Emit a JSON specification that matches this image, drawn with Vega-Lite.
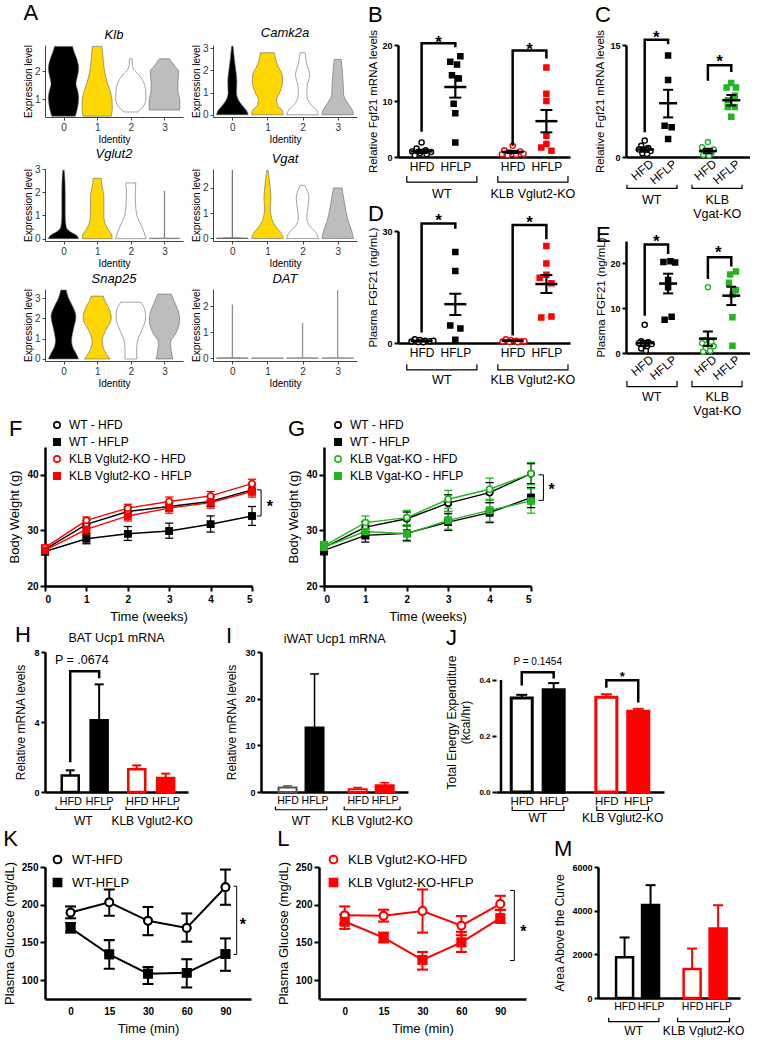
{
"$schema":"https://vega.github.io/schema/vega-lite/v6.json",
"padding":{"left":3,"top":2,"right":0,"bottom":0},
"background":"white",
"config":{
 "font":"Liberation Sans",
 "view":{"stroke":null},
 "axis":{"grid":false,"domainColor":"black","tickColor":"black","labelColor":"black","titleColor":"black","titleFontWeight":"normal","labelFont":"Liberation Sans","titleFont":"Liberation Sans"},
 "title":{"anchor":"start","frame":"bounds","fontSize":22,"fontWeight":"normal","font":"Liberation Sans","offset":2},
 "legend":{"labelFont":"Liberation Sans","labelColor":"black"}
},
"datasets":{"vio":[
{"g":"Klb","id":0,"l":0.38,"lo":-0.35,"hi":0.35},{"g":"Klb","id":0,"l":0.7,"lo":-0.42,"hi":0.42},{"g":"Klb","id":0,"l":1.05,"lo":-0.45,"hi":0.45},{"g":"Klb","id":0,"l":1.3,"lo":-0.42,"hi":0.42},{"g":"Klb","id":0,"l":1.55,"lo":-0.37,"hi":0.37},{"g":"Klb","id":0,"l":1.8,"lo":-0.41,"hi":0.41},{"g":"Klb","id":0,"l":2.1,"lo":-0.45,"hi":0.45},{"g":"Klb","id":0,"l":2.5,"lo":-0.38,"hi":0.38},{"g":"Klb","id":0,"l":2.75,"lo":-0.3,"hi":0.3},{"g":"Klb","id":0,"l":2.9,"lo":-0.27,"hi":0.27},
{"g":"Klb","id":1,"l":0.38,"lo":0.58,"hi":1.42},{"g":"Klb","id":1,"l":0.7,"lo":0.55,"hi":1.45},{"g":"Klb","id":1,"l":1.0,"lo":0.56,"hi":1.44},{"g":"Klb","id":1,"l":1.3,"lo":0.62,"hi":1.38},{"g":"Klb","id":1,"l":1.6,"lo":0.7,"hi":1.3},{"g":"Klb","id":1,"l":2.0,"lo":0.78,"hi":1.22},{"g":"Klb","id":1,"l":2.4,"lo":0.82,"hi":1.18},{"g":"Klb","id":1,"l":2.7,"lo":0.84,"hi":1.16},{"g":"Klb","id":1,"l":2.9,"lo":0.86,"hi":1.14},
{"g":"Klb","id":2,"l":0.53,"lo":1.8,"hi":2.2},{"g":"Klb","id":2,"l":0.7,"lo":1.65,"hi":2.35},{"g":"Klb","id":2,"l":1.0,"lo":1.55,"hi":2.45},{"g":"Klb","id":2,"l":1.3,"lo":1.56,"hi":2.44},{"g":"Klb","id":2,"l":1.6,"lo":1.62,"hi":2.38},{"g":"Klb","id":2,"l":1.9,"lo":1.78,"hi":2.22},{"g":"Klb","id":2,"l":2.05,"lo":1.9,"hi":2.1},{"g":"Klb","id":2,"l":2.2,"lo":1.95,"hi":2.05},{"g":"Klb","id":2,"l":2.45,"lo":1.96,"hi":2.04},
{"g":"Klb","id":3,"l":0.6,"lo":2.55,"hi":3.45},{"g":"Klb","id":3,"l":0.8,"lo":2.54,"hi":3.46},{"g":"Klb","id":3,"l":1.0,"lo":2.55,"hi":3.45},{"g":"Klb","id":3,"l":1.3,"lo":2.6,"hi":3.4},{"g":"Klb","id":3,"l":1.6,"lo":2.6,"hi":3.4},{"g":"Klb","id":3,"l":2.0,"lo":2.58,"hi":3.42},{"g":"Klb","id":3,"l":2.2,"lo":2.7,"hi":3.3},{"g":"Klb","id":3,"l":2.45,"lo":2.85,"hi":3.15},
{"g":"Camk2a","id":0,"l":0,"lo":-0.45,"hi":0.45},{"g":"Camk2a","id":0,"l":0.15,"lo":-0.42,"hi":0.42},{"g":"Camk2a","id":0,"l":0.35,"lo":-0.32,"hi":0.32},{"g":"Camk2a","id":0,"l":0.6,"lo":-0.2,"hi":0.2},{"g":"Camk2a","id":0,"l":1.0,"lo":-0.12,"hi":0.12},{"g":"Camk2a","id":0,"l":1.5,"lo":-0.13,"hi":0.13},{"g":"Camk2a","id":0,"l":2.0,"lo":-0.1,"hi":0.1},{"g":"Camk2a","id":0,"l":2.5,"lo":-0.06,"hi":0.06},{"g":"Camk2a","id":0,"l":3.1,"lo":-0.02,"hi":0.02},
{"g":"Camk2a","id":1,"l":0,"lo":0.55,"hi":1.45},{"g":"Camk2a","id":1,"l":0.2,"lo":0.58,"hi":1.42},{"g":"Camk2a","id":1,"l":0.45,"lo":0.72,"hi":1.28},{"g":"Camk2a","id":1,"l":0.7,"lo":0.74,"hi":1.26},{"g":"Camk2a","id":1,"l":1.0,"lo":0.65,"hi":1.35},{"g":"Camk2a","id":1,"l":1.5,"lo":0.57,"hi":1.43},{"g":"Camk2a","id":1,"l":1.8,"lo":0.58,"hi":1.42},{"g":"Camk2a","id":1,"l":2.2,"lo":0.7,"hi":1.3},{"g":"Camk2a","id":1,"l":2.6,"lo":0.78,"hi":1.22},{"g":"Camk2a","id":1,"l":2.8,"lo":0.8,"hi":1.2},
{"g":"Camk2a","id":2,"l":0,"lo":1.55,"hi":2.45},{"g":"Camk2a","id":2,"l":0.2,"lo":1.6,"hi":2.4},{"g":"Camk2a","id":2,"l":0.5,"lo":1.78,"hi":2.22},{"g":"Camk2a","id":2,"l":0.9,"lo":1.88,"hi":2.12},{"g":"Camk2a","id":2,"l":1.3,"lo":1.87,"hi":2.13},{"g":"Camk2a","id":2,"l":1.8,"lo":1.8,"hi":2.2},{"g":"Camk2a","id":2,"l":2.3,"lo":1.88,"hi":2.12},{"g":"Camk2a","id":2,"l":2.8,"lo":1.93,"hi":2.07},
{"g":"Camk2a","id":3,"l":0,"lo":2.55,"hi":3.45},{"g":"Camk2a","id":3,"l":0.2,"lo":2.58,"hi":3.42},{"g":"Camk2a","id":3,"l":0.5,"lo":2.7,"hi":3.3},{"g":"Camk2a","id":3,"l":0.9,"lo":2.83,"hi":3.17},{"g":"Camk2a","id":3,"l":1.3,"lo":2.84,"hi":3.16},{"g":"Camk2a","id":3,"l":1.8,"lo":2.86,"hi":3.14},{"g":"Camk2a","id":3,"l":2.2,"lo":2.88,"hi":3.12},{"g":"Camk2a","id":3,"l":2.5,"lo":2.9,"hi":3.1},
{"g":"Vglut2","id":0,"l":0,"lo":-0.45,"hi":0.45},{"g":"Vglut2","id":0,"l":0.15,"lo":-0.38,"hi":0.38},{"g":"Vglut2","id":0,"l":0.3,"lo":-0.2,"hi":0.2},{"g":"Vglut2","id":0,"l":0.5,"lo":-0.08,"hi":0.08},{"g":"Vglut2","id":0,"l":1.0,"lo":-0.05,"hi":0.05},{"g":"Vglut2","id":0,"l":2.0,"lo":-0.05,"hi":0.05},{"g":"Vglut2","id":0,"l":2.6,"lo":-0.04,"hi":0.04},{"g":"Vglut2","id":0,"l":2.95,"lo":-0.02,"hi":0.02},
{"g":"Vglut2","id":1,"l":0,"lo":0.55,"hi":1.45},{"g":"Vglut2","id":1,"l":0.2,"lo":0.58,"hi":1.42},{"g":"Vglut2","id":1,"l":0.45,"lo":0.7,"hi":1.3},{"g":"Vglut2","id":1,"l":0.75,"lo":0.78,"hi":1.22},{"g":"Vglut2","id":1,"l":1.0,"lo":0.8,"hi":1.2},{"g":"Vglut2","id":1,"l":1.8,"lo":0.8,"hi":1.2},{"g":"Vglut2","id":1,"l":2.4,"lo":0.87,"hi":1.13},{"g":"Vglut2","id":1,"l":2.6,"lo":0.88,"hi":1.12},
{"g":"Vglut2","id":2,"l":0,"lo":1.55,"hi":2.45},{"g":"Vglut2","id":2,"l":0.25,"lo":1.6,"hi":2.4},{"g":"Vglut2","id":2,"l":0.6,"lo":1.7,"hi":2.3},{"g":"Vglut2","id":2,"l":1.0,"lo":1.82,"hi":2.18},{"g":"Vglut2","id":2,"l":1.5,"lo":1.86,"hi":2.14},{"g":"Vglut2","id":2,"l":2.0,"lo":1.87,"hi":2.13},{"g":"Vglut2","id":2,"l":2.4,"lo":1.85,"hi":2.15},
{"g":"Vglut2","id":3,"l":0,"lo":2.55,"hi":3.45},{"g":"Vglut2","id":3,"l":0.02,"lo":2.55,"hi":3.45},{"g":"Vglut2","id":3,"l":0.03,"lo":2.994,"hi":3.006},{"g":"Vglut2","id":3,"l":2.05,"lo":2.994,"hi":3.006},
{"g":"Vgat","id":0,"l":0,"lo":-0.45,"hi":0.45},{"g":"Vgat","id":0,"l":0.02,"lo":-0.45,"hi":0.45},{"g":"Vgat","id":0,"l":0.03,"lo":-0.006,"hi":0.006},{"g":"Vgat","id":0,"l":2.7,"lo":-0.006,"hi":0.006},
{"g":"Vgat","id":1,"l":0,"lo":0.55,"hi":1.45},{"g":"Vgat","id":1,"l":0.2,"lo":0.6,"hi":1.4},{"g":"Vgat","id":1,"l":0.45,"lo":0.75,"hi":1.25},{"g":"Vgat","id":1,"l":0.8,"lo":0.88,"hi":1.12},{"g":"Vgat","id":1,"l":1.2,"lo":0.92,"hi":1.08},{"g":"Vgat","id":1,"l":1.6,"lo":0.9,"hi":1.1},{"g":"Vgat","id":1,"l":2.0,"lo":0.92,"hi":1.08},{"g":"Vgat","id":1,"l":2.4,"lo":0.95,"hi":1.05},{"g":"Vgat","id":1,"l":2.7,"lo":0.98,"hi":1.02},
{"g":"Vgat","id":2,"l":0,"lo":1.55,"hi":2.45},{"g":"Vgat","id":2,"l":0.2,"lo":1.6,"hi":2.4},{"g":"Vgat","id":2,"l":0.5,"lo":1.8,"hi":2.2},{"g":"Vgat","id":2,"l":0.8,"lo":1.88,"hi":2.12},{"g":"Vgat","id":2,"l":1.2,"lo":1.85,"hi":2.15},{"g":"Vgat","id":2,"l":1.6,"lo":1.82,"hi":2.18},{"g":"Vgat","id":2,"l":1.9,"lo":1.87,"hi":2.13},{"g":"Vgat","id":2,"l":2.1,"lo":1.94,"hi":2.06},
{"g":"Vgat","id":3,"l":0,"lo":2.55,"hi":3.45},{"g":"Vgat","id":3,"l":0.3,"lo":2.6,"hi":3.4},{"g":"Vgat","id":3,"l":0.7,"lo":2.7,"hi":3.3},{"g":"Vgat","id":3,"l":1.2,"lo":2.78,"hi":3.22},{"g":"Vgat","id":3,"l":1.6,"lo":2.83,"hi":3.17},{"g":"Vgat","id":3,"l":2.0,"lo":2.88,"hi":3.12},
{"g":"Snap25","id":0,"l":0,"lo":-0.45,"hi":0.45},{"g":"Snap25","id":0,"l":0.25,"lo":-0.38,"hi":0.38},{"g":"Snap25","id":0,"l":0.6,"lo":-0.27,"hi":0.27},{"g":"Snap25","id":0,"l":0.9,"lo":-0.24,"hi":0.24},{"g":"Snap25","id":0,"l":1.5,"lo":-0.3,"hi":0.3},{"g":"Snap25","id":0,"l":2.1,"lo":-0.37,"hi":0.37},{"g":"Snap25","id":0,"l":2.6,"lo":-0.27,"hi":0.27},{"g":"Snap25","id":0,"l":3.0,"lo":-0.15,"hi":0.15},{"g":"Snap25","id":0,"l":3.4,"lo":-0.08,"hi":0.08},
{"g":"Snap25","id":1,"l":0,"lo":0.62,"hi":1.38},{"g":"Snap25","id":1,"l":0.4,"lo":0.78,"hi":1.22},{"g":"Snap25","id":1,"l":0.9,"lo":0.85,"hi":1.15},{"g":"Snap25","id":1,"l":1.4,"lo":0.75,"hi":1.25},{"g":"Snap25","id":1,"l":2.0,"lo":0.58,"hi":1.42},{"g":"Snap25","id":1,"l":2.5,"lo":0.65,"hi":1.35},{"g":"Snap25","id":1,"l":2.9,"lo":0.78,"hi":1.22},{"g":"Snap25","id":1,"l":3.1,"lo":0.82,"hi":1.18},
{"g":"Snap25","id":2,"l":0,"lo":1.82,"hi":2.18},{"g":"Snap25","id":2,"l":0.4,"lo":1.83,"hi":2.17},{"g":"Snap25","id":2,"l":0.9,"lo":1.8,"hi":2.2},{"g":"Snap25","id":2,"l":1.4,"lo":1.68,"hi":2.32},{"g":"Snap25","id":2,"l":2.0,"lo":1.56,"hi":2.44},{"g":"Snap25","id":2,"l":2.4,"lo":1.58,"hi":2.42},{"g":"Snap25","id":2,"l":2.8,"lo":1.7,"hi":2.3},
{"g":"Snap25","id":3,"l":0,"lo":2.75,"hi":3.25},{"g":"Snap25","id":3,"l":0.4,"lo":2.8,"hi":3.2},{"g":"Snap25","id":3,"l":0.8,"lo":2.82,"hi":3.18},{"g":"Snap25","id":3,"l":1.3,"lo":2.65,"hi":3.35},{"g":"Snap25","id":3,"l":1.9,"lo":2.55,"hi":3.45},{"g":"Snap25","id":3,"l":2.3,"lo":2.58,"hi":3.42},{"g":"Snap25","id":3,"l":2.8,"lo":2.7,"hi":3.3},{"g":"Snap25","id":3,"l":3.2,"lo":2.8,"hi":3.2},
{"g":"DAT","id":0,"l":0,"lo":-0.45,"hi":0.45},{"g":"DAT","id":0,"l":0.02,"lo":-0.45,"hi":0.45},{"g":"DAT","id":0,"l":0.03,"lo":-0.006,"hi":0.006},{"g":"DAT","id":0,"l":2.05,"lo":-0.006,"hi":0.006},
{"g":"DAT","id":1,"l":0,"lo":0.55,"hi":1.45},{"g":"DAT","id":1,"l":0.02,"lo":0.55,"hi":1.45},
{"g":"DAT","id":2,"l":0,"lo":1.55,"hi":2.45},{"g":"DAT","id":2,"l":0.02,"lo":1.55,"hi":2.45},{"g":"DAT","id":2,"l":0.03,"lo":1.994,"hi":2.006},{"g":"DAT","id":2,"l":1.35,"lo":1.994,"hi":2.006},
{"g":"DAT","id":3,"l":0,"lo":2.55,"hi":3.45},{"g":"DAT","id":3,"l":0.02,"lo":2.55,"hi":3.45},{"g":"DAT","id":3,"l":0.03,"lo":2.994,"hi":3.006},{"g":"DAT","id":3,"l":2.6,"lo":2.994,"hi":3.006}
]},
"spacing":0,
"resolve":{"scale":{"color":"independent","fill":"independent","stroke":"independent","shape":"independent"}},
"vconcat":[
{"resolve":{"scale":{"color":"independent","fill":"independent","stroke":"independent","shape":"independent"}},"hconcat":[
 {"title":{"text":"A"},"spacing":4,"resolve":{"scale":{"color":"independent","fill":"independent","stroke":"independent","shape":"independent"}},"vconcat":[
  {"resolve":{"scale":{"color":"independent"}},"hconcat":[
   {"width":138,"height":72,"title":{"text":"Klb","anchor":"middle","frame":"group","fontStyle":"italic","fontSize":13,"offset":3},"data":{"name":"vio"},"transform":[{"filter":"datum.g == 'Klb'"}],"mark":{"type":"area","orient":"horizontal","interpolate":"monotone","stroke":"#666666","strokeWidth":0.6,"opacity":1},"encoding":{"y":{"field":"l","type":"quantitative","scale":{"domain":[0.35,2.95],"nice":false,"zero":false},"axis":{"title":"Expression level","values":[1,2],"titleFontSize":10,"labelFontSize":10,"domainColor":"#444","tickColor":"#444","labelColor":"#333","titlePadding":1,"tickSize":3,"labelPadding":2}},"x":{"field":"lo","type":"quantitative","scale":{"domain":[-0.55,3.55],"nice":false,"zero":false},"axis":{"title":"Identity","values":[0,1,2,3],"format":"d","titleFontSize":10,"labelFontSize":10,"domainColor":"#444","tickColor":"#444","labelColor":"#333","titlePadding":2,"tickSize":3}},"x2":{"field":"hi"},"color":{"field":"id","type":"nominal","scale":{"domain":[0,1,2,3],"range":["#000000","#ffd700","#ffffff","#bdbdbd"]},"legend":null}}},
   {"width":144,"height":72,"title":{"text":"Camk2a","anchor":"middle","frame":"group","fontStyle":"italic","fontSize":13,"offset":3},"data":{"name":"vio"},"transform":[{"filter":"datum.g == 'Camk2a'"}],"mark":{"type":"area","orient":"horizontal","interpolate":"monotone","stroke":"#666666","strokeWidth":0.6,"opacity":1},"encoding":{"y":{"field":"l","type":"quantitative","scale":{"domain":[-0.1,3.15],"nice":false,"zero":false},"axis":{"title":"Expression level","values":[0,1,2,3],"titleFontSize":10,"labelFontSize":10,"domainColor":"#444","tickColor":"#444","labelColor":"#333","titlePadding":1,"tickSize":3,"labelPadding":2}},"x":{"field":"lo","type":"quantitative","scale":{"domain":[-0.55,3.55],"nice":false,"zero":false},"axis":{"title":"Identity","values":[0,1,2,3],"format":"d","titleFontSize":10,"labelFontSize":10,"domainColor":"#444","tickColor":"#444","labelColor":"#333","titlePadding":2,"tickSize":3}},"x2":{"field":"hi"},"color":{"field":"id","type":"nominal","scale":{"domain":[0,1,2,3],"range":["#000000","#ffd700","#ffffff","#bdbdbd"]},"legend":null}}}
  ],"spacing":8},
  {"resolve":{"scale":{"color":"independent"}},"hconcat":[
   {"width":138,"height":72,"title":{"text":"Vglut2","anchor":"middle","frame":"group","fontStyle":"italic","fontSize":13,"offset":3},"data":{"name":"vio"},"transform":[{"filter":"datum.g == 'Vglut2'"}],"mark":{"type":"area","orient":"horizontal","interpolate":"monotone","stroke":"#666666","strokeWidth":0.6,"opacity":1},"encoding":{"y":{"field":"l","type":"quantitative","scale":{"domain":[-0.1,3.0],"nice":false,"zero":false},"axis":{"title":"Expression level","values":[0,1,2,3],"titleFontSize":10,"labelFontSize":10,"domainColor":"#444","tickColor":"#444","labelColor":"#333","titlePadding":1,"tickSize":3,"labelPadding":2}},"x":{"field":"lo","type":"quantitative","scale":{"domain":[-0.55,3.55],"nice":false,"zero":false},"axis":{"title":"Identity","values":[0,1,2,3],"format":"d","titleFontSize":10,"labelFontSize":10,"domainColor":"#444","tickColor":"#444","labelColor":"#333","titlePadding":2,"tickSize":3}},"x2":{"field":"hi"},"color":{"field":"id","type":"nominal","scale":{"domain":[0,1,2,3],"range":["#000000","#ffd700","#ffffff","#bdbdbd"]},"legend":null}}},
   {"width":144,"height":72,"title":{"text":"Vgat","anchor":"middle","frame":"group","fontStyle":"italic","fontSize":13,"offset":3},"data":{"name":"vio"},"transform":[{"filter":"datum.g == 'Vgat'"}],"mark":{"type":"area","orient":"horizontal","interpolate":"monotone","stroke":"#666666","strokeWidth":0.6,"opacity":1},"encoding":{"y":{"field":"l","type":"quantitative","scale":{"domain":[-0.1,2.75],"nice":false,"zero":false},"axis":{"title":"Expression level","values":[0,1,2],"titleFontSize":10,"labelFontSize":10,"domainColor":"#444","tickColor":"#444","labelColor":"#333","titlePadding":1,"tickSize":3,"labelPadding":2}},"x":{"field":"lo","type":"quantitative","scale":{"domain":[-0.55,3.55],"nice":false,"zero":false},"axis":{"title":"Identity","values":[0,1,2,3],"format":"d","titleFontSize":10,"labelFontSize":10,"domainColor":"#444","tickColor":"#444","labelColor":"#333","titlePadding":2,"tickSize":3}},"x2":{"field":"hi"},"color":{"field":"id","type":"nominal","scale":{"domain":[0,1,2,3],"range":["#000000","#ffd700","#ffffff","#bdbdbd"]},"legend":null}}}
  ],"spacing":8},
  {"resolve":{"scale":{"color":"independent"}},"hconcat":[
   {"width":138,"height":72,"title":{"text":"Snap25","anchor":"middle","frame":"group","fontStyle":"italic","fontSize":13,"offset":3},"data":{"name":"vio"},"transform":[{"filter":"datum.g == 'Snap25'"}],"mark":{"type":"area","orient":"horizontal","interpolate":"monotone","stroke":"#666666","strokeWidth":0.6,"opacity":1},"encoding":{"y":{"field":"l","type":"quantitative","scale":{"domain":[-0.1,3.45],"nice":false,"zero":false},"axis":{"title":"Expression level","values":[0,1,2,3],"titleFontSize":10,"labelFontSize":10,"domainColor":"#444","tickColor":"#444","labelColor":"#333","titlePadding":1,"tickSize":3,"labelPadding":2}},"x":{"field":"lo","type":"quantitative","scale":{"domain":[-0.55,3.55],"nice":false,"zero":false},"axis":{"title":"Identity","values":[0,1,2,3],"format":"d","titleFontSize":10,"labelFontSize":10,"domainColor":"#444","tickColor":"#444","labelColor":"#333","titlePadding":2,"tickSize":3}},"x2":{"field":"hi"},"color":{"field":"id","type":"nominal","scale":{"domain":[0,1,2,3],"range":["#000000","#ffd700","#ffffff","#bdbdbd"]},"legend":null}}},
   {"width":144,"height":72,"title":{"text":"DAT","anchor":"middle","frame":"group","fontStyle":"italic","fontSize":13,"offset":3},"data":{"name":"vio"},"transform":[{"filter":"datum.g == 'DAT'"}],"mark":{"type":"area","orient":"horizontal","interpolate":"monotone","stroke":"#777777","strokeWidth":0.6,"opacity":1},"encoding":{"y":{"field":"l","type":"quantitative","scale":{"domain":[-0.1,2.65],"nice":false,"zero":false},"axis":{"title":"Expression level","values":[0,1,2],"titleFontSize":10,"labelFontSize":10,"domainColor":"#444","tickColor":"#444","labelColor":"#333","titlePadding":1,"tickSize":3,"labelPadding":2}},"x":{"field":"lo","type":"quantitative","scale":{"domain":[-0.55,3.55],"nice":false,"zero":false},"axis":{"title":"Identity","values":[0,1,2,3],"format":"d","titleFontSize":10,"labelFontSize":10,"domainColor":"#444","tickColor":"#444","labelColor":"#333","titlePadding":2,"tickSize":3}},"x2":{"field":"hi"},"color":{"field":"id","type":"nominal","scale":{"domain":[0,1,2,3],"range":["#888888","#bbbbbb","#bbbbbb","#bbbbbb"]},"legend":null}}}
  ],"spacing":8}
 ]},
 {"resolve":{"scale":{"color":"independent","fill":"independent","stroke":"independent","shape":"independent"}},"hconcat":[
  {"spacing":2,"resolve":{"scale":{"color":"independent","fill":"independent","stroke":"independent","shape":"independent"}},"vconcat":[
   {"title":{"text":"B"},"width":172,"height":112,"layer":[
    {"data":{"values":[
     {"c":"WT HFD","x":1.0,"y":2.6},{"c":"WT HFD","x":0.85,"y":1.5},{"c":"WT HFD","x":1.12,"y":1.2},{"c":"WT HFD","x":0.72,"y":1.0},{"c":"WT HFD","x":1.28,"y":0.9},{"c":"WT HFD","x":0.95,"y":0.7},{"c":"WT HFD","x":1.15,"y":0.5},{"c":"WT HFD","x":0.8,"y":0.3},
     {"c":"WT HFLP","x":2.15,"y":18.0},{"c":"WT HFLP","x":1.85,"y":17.0},{"c":"WT HFLP","x":2.05,"y":16.5},{"c":"WT HFLP","x":1.9,"y":14.6},{"c":"WT HFLP","x":2.1,"y":14.0},{"c":"WT HFLP","x":1.95,"y":9.5},{"c":"WT HFLP","x":2.0,"y":7.8},{"c":"WT HFLP","x":2.0,"y":2.6},
     {"c":"KO HFD","x":3.7,"y":2.0},{"c":"KO HFD","x":3.45,"y":1.2},{"c":"KO HFD","x":3.92,"y":1.0},{"c":"KO HFD","x":3.6,"y":0.8},{"c":"KO HFD","x":4.02,"y":0.6},{"c":"KO HFD","x":3.38,"y":0.5},{"c":"KO HFD","x":3.8,"y":0.4},{"c":"KO HFD","x":3.55,"y":0.3},
     {"c":"KO HFLP","x":4.7,"y":16.0},{"c":"KO HFLP","x":4.7,"y":11.3},{"c":"KO HFLP","x":4.7,"y":10.0},{"c":"KO HFLP","x":4.7,"y":3.8},{"c":"KO HFLP","x":4.7,"y":2.3},{"c":"KO HFLP","x":4.55,"y":1.7},{"c":"KO HFLP","x":4.85,"y":1.1}
    ]},
     "mark":{"type":"point","filled":false,"size":26,"strokeWidth":1.4,"opacity":1},
     "encoding":{
      "x":{"field":"x","type":"quantitative","scale":{"domain":[0.3,5.4],"nice":false,"zero":false},"axis":{"title":null,"values":[1,2,3.7,4.7],"labelExpr":"(datum.value == 1 || datum.value == 3.7) ? 'HFD' : 'HFLP'","ticks":false,"domainWidth":2.5,"labelFontSize":12,"labelPadding":4,"labelOverlap":false}},
      "y":{"field":"y","type":"quantitative","scale":{"domain":[0,20],"nice":false,"zero":false},"axis":{"values":[0,5,10,15,20],"title":"Relative Fgf21 mRNA levels","domainWidth":2.5,"tickWidth":2,"tickSize":4,"labelFontSize":9,"labelFontWeight":"bold","titleFontSize":11.5,"titlePadding":3,"labelPadding":2}},
      "shape":{"field":"c","type":"nominal","scale":{"domain":["WT HFD","WT HFLP","KO HFD","KO HFLP"],"range":["circle","square","circle","square"]},"legend":null},
      "color":{"field":"c","type":"nominal","scale":{"domain":["WT HFD","WT HFLP","KO HFD","KO HFLP"],"range":["black","black","#ff0000","#ff0000"]},"legend":null},
      "fill":{"field":"c","type":"nominal","scale":{"domain":["WT HFD","WT HFLP","KO HFD","KO HFLP"],"range":["white","black","white","#ff0000"]},"legend":null}}},
    {"data":{"values":[{"x":1,"m":1.0,"lo":0.7,"hi":1.3},{"x":2,"m":12.5,"lo":10.6,"hi":14.4},{"x":3.7,"m":0.9,"lo":0.7,"hi":1.1},{"x":4.7,"m":6.4,"lo":4.4,"hi":8.4}]},"layer":[
     {"mark":{"type":"rule","strokeWidth":2.2,"color":"black"},"encoding":{"x":{"field":"x","type":"quantitative"},"y":{"field":"lo","type":"quantitative"},"y2":{"field":"hi"}}},
     {"mark":{"type":"tick","orient":"horizontal","size":22,"thickness":2.5,"color":"black","opacity":1},"encoding":{"x":{"field":"x","type":"quantitative"},"y":{"field":"m","type":"quantitative"}}},
     {"mark":{"type":"tick","orient":"horizontal","size":12,"thickness":2,"color":"black","opacity":1},"encoding":{"x":{"field":"x","type":"quantitative"},"y":{"field":"lo","type":"quantitative"}}},
     {"mark":{"type":"tick","orient":"horizontal","size":12,"thickness":2,"color":"black","opacity":1},"encoding":{"x":{"field":"x","type":"quantitative"},"y":{"field":"hi","type":"quantitative"}}}
    ]},
    {"data":{"values":[{"b":1,"o":1,"x":1,"y":4.5},{"b":1,"o":2,"x":1,"y":20.3},{"b":1,"o":3,"x":2,"y":20.3},{"b":1,"o":4,"x":2,"y":19.6},{"b":2,"o":1,"x":3.7,"y":2.0},{"b":2,"o":2,"x":3.7,"y":19.0},{"b":2,"o":3,"x":4.7,"y":19.0},{"b":2,"o":4,"x":4.7,"y":17.6}]},"mark":{"type":"line","color":"black","strokeWidth":2.5,"clip":false},"encoding":{"x":{"field":"x","type":"quantitative"},"y":{"field":"y","type":"quantitative"},"detail":{"field":"b","type":"nominal"},"order":{"field":"o","type":"quantitative"}}},
    {"data":{"values":[{"x":1.5,"y":21.1,"t":"*"},{"x":4.2,"y":19.9,"t":"*"}]},"mark":{"type":"text","fontSize":17,"fontWeight":"bold","baseline":"alphabetic","dy":9,"clip":false},"encoding":{"x":{"field":"x","type":"quantitative"},"y":{"field":"y","type":"quantitative"},"text":{"field":"t"}}},
    {"data":{"values":[{"b":1,"o":1,"x":0.56,"y":-3.4},{"b":1,"o":2,"x":0.56,"y":-4.5},{"b":1,"o":3,"x":2.64,"y":-4.5},{"b":1,"o":4,"x":2.64,"y":-3.4},{"b":2,"o":1,"x":3.26,"y":-3.4},{"b":2,"o":2,"x":3.26,"y":-4.5},{"b":2,"o":3,"x":5.34,"y":-4.5},{"b":2,"o":4,"x":5.34,"y":-3.4}]},"mark":{"type":"line","color":"black","strokeWidth":1.2,"clip":false},"encoding":{"x":{"field":"x","type":"quantitative"},"y":{"field":"y","type":"quantitative"},"detail":{"field":"b","type":"nominal"},"order":{"field":"o","type":"quantitative"}}},
    {"data":{"values":[{"x":1.6,"y":-5.5,"t":"WT"},{"x":4.3,"y":-5.5,"t":"KLB Vglut2-KO"}]},"mark":{"type":"text","fontSize":12.5,"baseline":"top","clip":false},"encoding":{"x":{"field":"x","type":"quantitative"},"y":{"field":"y","type":"quantitative"},"text":{"field":"t"}}}
   ]},
   {"title":{"text":"D","offset":-14},"width":172,"height":112,"layer":[
    {"data":{"values":[
     {"c":"WT HFD","x":0.8,"y":1.0},{"c":"WT HFD","x":0.95,"y":0.8},{"c":"WT HFD","x":1.1,"y":0.6},{"c":"WT HFD","x":1.25,"y":0.5},{"c":"WT HFD","x":0.7,"y":0.4},{"c":"WT HFD","x":0.9,"y":0.3},{"c":"WT HFD","x":1.05,"y":0.2},{"c":"WT HFD","x":1.35,"y":0.6},
     {"c":"WT HFLP","x":2.0,"y":24.4},{"c":"WT HFLP","x":2.0,"y":19.3},{"c":"WT HFLP","x":1.85,"y":4.7},{"c":"WT HFLP","x":2.15,"y":3.9},{"c":"WT HFLP","x":2.0,"y":0.9},
     {"c":"KO HFD","x":3.5,"y":1.0},{"c":"KO HFD","x":3.65,"y":0.8},{"c":"KO HFD","x":3.8,"y":0.6},{"c":"KO HFD","x":3.95,"y":0.5},{"c":"KO HFD","x":3.4,"y":0.4},{"c":"KO HFD","x":3.6,"y":0.3},{"c":"KO HFD","x":3.85,"y":0.2},{"c":"KO HFD","x":4.05,"y":0.5},
     {"c":"KO HFLP","x":4.7,"y":26.0},{"c":"KO HFLP","x":4.7,"y":21.3},{"c":"KO HFLP","x":4.7,"y":18.3},{"c":"KO HFLP","x":4.5,"y":17.5},{"c":"KO HFLP","x":4.85,"y":16.0},{"c":"KO HFLP","x":4.85,"y":7.1},{"c":"KO HFLP","x":4.55,"y":6.8}
    ]},
     "mark":{"type":"point","filled":false,"size":26,"strokeWidth":1.4,"opacity":1},
     "encoding":{
      "x":{"field":"x","type":"quantitative","scale":{"domain":[0.3,5.4],"nice":false,"zero":false},"axis":{"title":null,"values":[1,2,3.7,4.7],"labelExpr":"(datum.value == 1 || datum.value == 3.7) ? 'HFD' : 'HFLP'","ticks":false,"domainWidth":2.5,"labelFontSize":12,"labelPadding":4,"labelOverlap":false}},
      "y":{"field":"y","type":"quantitative","scale":{"domain":[0,30],"nice":false,"zero":false},"axis":{"values":[0,10,20,30],"title":"Plasma FGF21 (ng/mL)","domainWidth":2.5,"tickWidth":2,"tickSize":4,"labelFontSize":9,"labelFontWeight":"bold","titleFontSize":11.5,"titlePadding":3,"labelPadding":2}},
      "shape":{"field":"c","type":"nominal","scale":{"domain":["WT HFD","WT HFLP","KO HFD","KO HFLP"],"range":["circle","square","circle","square"]},"legend":null},
      "color":{"field":"c","type":"nominal","scale":{"domain":["WT HFD","WT HFLP","KO HFD","KO HFLP"],"range":["black","black","#ff0000","#ff0000"]},"legend":null},
      "fill":{"field":"c","type":"nominal","scale":{"domain":["WT HFD","WT HFLP","KO HFD","KO HFLP"],"range":["white","black","white","#ff0000"]},"legend":null}}},
    {"data":{"values":[{"x":1,"m":0.5,"lo":0.4,"hi":0.6},{"x":2,"m":10.4,"lo":7.5,"hi":13.2},{"x":3.7,"m":0.6,"lo":0.5,"hi":0.7},{"x":4.7,"m":15.8,"lo":13.4,"hi":18.2}]},"layer":[
     {"mark":{"type":"rule","strokeWidth":2.2,"color":"black"},"encoding":{"x":{"field":"x","type":"quantitative"},"y":{"field":"lo","type":"quantitative"},"y2":{"field":"hi"}}},
     {"mark":{"type":"tick","orient":"horizontal","size":22,"thickness":2.5,"color":"black","opacity":1},"encoding":{"x":{"field":"x","type":"quantitative"},"y":{"field":"m","type":"quantitative"}}},
     {"mark":{"type":"tick","orient":"horizontal","size":12,"thickness":2,"color":"black","opacity":1},"encoding":{"x":{"field":"x","type":"quantitative"},"y":{"field":"lo","type":"quantitative"}}},
     {"mark":{"type":"tick","orient":"horizontal","size":12,"thickness":2,"color":"black","opacity":1},"encoding":{"x":{"field":"x","type":"quantitative"},"y":{"field":"hi","type":"quantitative"}}}
    ]},
    {"data":{"values":[{"b":1,"o":1,"x":1,"y":2.8},{"b":1,"o":2,"x":1,"y":32.0},{"b":1,"o":3,"x":2,"y":32.0},{"b":1,"o":4,"x":2,"y":30.6},{"b":2,"o":1,"x":3.7,"y":2.0},{"b":2,"o":2,"x":3.7,"y":31.6},{"b":2,"o":3,"x":4.7,"y":31.6},{"b":2,"o":4,"x":4.7,"y":27.8}]},"mark":{"type":"line","color":"black","strokeWidth":2.5,"clip":false},"encoding":{"x":{"field":"x","type":"quantitative"},"y":{"field":"y","type":"quantitative"},"detail":{"field":"b","type":"nominal"},"order":{"field":"o","type":"quantitative"}}},
    {"data":{"values":[{"x":1.5,"y":33.7,"t":"*"},{"x":4.2,"y":33.2,"t":"*"}]},"mark":{"type":"text","fontSize":17,"fontWeight":"bold","baseline":"alphabetic","dy":9,"clip":false},"encoding":{"x":{"field":"x","type":"quantitative"},"y":{"field":"y","type":"quantitative"},"text":{"field":"t"}}},
    {"data":{"values":[{"b":1,"o":1,"x":0.56,"y":-5.7},{"b":1,"o":2,"x":0.56,"y":-7.2},{"b":1,"o":3,"x":2.64,"y":-7.2},{"b":1,"o":4,"x":2.64,"y":-5.7},{"b":2,"o":1,"x":3.26,"y":-5.7},{"b":2,"o":2,"x":3.26,"y":-7.2},{"b":2,"o":3,"x":5.34,"y":-7.2},{"b":2,"o":4,"x":5.34,"y":-5.7}]},"mark":{"type":"line","color":"black","strokeWidth":1.2,"clip":false},"encoding":{"x":{"field":"x","type":"quantitative"},"y":{"field":"y","type":"quantitative"},"detail":{"field":"b","type":"nominal"},"order":{"field":"o","type":"quantitative"}}},
    {"data":{"values":[{"x":1.6,"y":-8.3,"t":"WT"},{"x":4.3,"y":-8.3,"t":"KLB Vglut2-KO"}]},"mark":{"type":"text","fontSize":12.5,"baseline":"top","clip":false},"encoding":{"x":{"field":"x","type":"quantitative"},"y":{"field":"y","type":"quantitative"},"text":{"field":"t"}}}
   ]}
  ]},
  {"spacing":2,"resolve":{"scale":{"color":"independent","fill":"independent","stroke":"independent","shape":"independent"}},"vconcat":[
   {"title":{"text":"C"},"width":124,"height":112,"layer":[
    {"data":{"values":[
     {"c":"WT HFD","x":1.0,"y":2.2},{"c":"WT HFD","x":0.85,"y":1.5},{"c":"WT HFD","x":1.15,"y":1.2},{"c":"WT HFD","x":0.75,"y":1.0},{"c":"WT HFD","x":1.25,"y":0.8},{"c":"WT HFD","x":0.9,"y":0.5},{"c":"WT HFD","x":1.1,"y":0.4},
     {"c":"WT HFLP","x":2.0,"y":13.6},{"c":"WT HFLP","x":2.0,"y":10.3},{"c":"WT HFLP","x":1.85,"y":4.2},{"c":"WT HFLP","x":2.15,"y":4.0},{"c":"WT HFLP","x":2.0,"y":2.4},
     {"c":"KO HFD","x":3.7,"y":2.0},{"c":"KO HFD","x":3.45,"y":1.3},{"c":"KO HFD","x":3.95,"y":1.0},{"c":"KO HFD","x":3.6,"y":0.8},{"c":"KO HFD","x":3.85,"y":0.5},{"c":"KO HFD","x":3.5,"y":0.3},{"c":"KO HFD","x":3.75,"y":0.2},
     {"c":"KO HFLP","x":4.7,"y":9.9},{"c":"KO HFLP","x":4.5,"y":9.3},{"c":"KO HFLP","x":4.9,"y":9.3},{"c":"KO HFLP","x":4.85,"y":8.2},{"c":"KO HFLP","x":4.55,"y":7.6},{"c":"KO HFLP","x":4.55,"y":6.7},{"c":"KO HFLP","x":4.85,"y":6.7},{"c":"KO HFLP","x":4.7,"y":5.4}
    ]},
     "mark":{"type":"point","filled":false,"size":26,"strokeWidth":1.4,"opacity":1},
     "encoding":{
      "x":{"field":"x","type":"quantitative","scale":{"domain":[0.2,5.5],"nice":false,"zero":false},"axis":{"title":null,"labels":false,"ticks":false,"domainWidth":2.5}},
      "y":{"field":"y","type":"quantitative","scale":{"domain":[0,15],"nice":false,"zero":false},"axis":{"values":[0,5,10,15],"title":"Relative Fgf21 mRNA levels","domainWidth":2.5,"tickWidth":2,"tickSize":4,"labelFontSize":9,"labelFontWeight":"bold","titleFontSize":11.5,"titlePadding":4,"labelPadding":2}},
      "shape":{"field":"c","type":"nominal","scale":{"domain":["WT HFD","WT HFLP","KO HFD","KO HFLP"],"range":["circle","square","circle","square"]},"legend":null},
      "color":{"field":"c","type":"nominal","scale":{"domain":["WT HFD","WT HFLP","KO HFD","KO HFLP"],"range":["black","black","#22b722","#22b722"]},"legend":null},
      "fill":{"field":"c","type":"nominal","scale":{"domain":["WT HFD","WT HFLP","KO HFD","KO HFLP"],"range":["white","black","white","#22b722"]},"legend":null}}},
    {"data":{"values":[{"x":1,"m":1.0,"lo":0.7,"hi":1.3},{"x":2,"m":7.2,"lo":5.3,"hi":9.0},{"x":3.7,"m":0.8,"lo":0.5,"hi":1.1},{"x":4.7,"m":7.6,"lo":6.9,"hi":8.3}]},"layer":[
     {"mark":{"type":"rule","strokeWidth":2.2,"color":"black"},"encoding":{"x":{"field":"x","type":"quantitative"},"y":{"field":"lo","type":"quantitative"},"y2":{"field":"hi"}}},
     {"mark":{"type":"tick","orient":"horizontal","size":18,"thickness":2.5,"color":"black","opacity":1},"encoding":{"x":{"field":"x","type":"quantitative"},"y":{"field":"m","type":"quantitative"}}},
     {"mark":{"type":"tick","orient":"horizontal","size":10,"thickness":2,"color":"black","opacity":1},"encoding":{"x":{"field":"x","type":"quantitative"},"y":{"field":"lo","type":"quantitative"}}},
     {"mark":{"type":"tick","orient":"horizontal","size":10,"thickness":2,"color":"black","opacity":1},"encoding":{"x":{"field":"x","type":"quantitative"},"y":{"field":"hi","type":"quantitative"}}}
    ]},
    {"data":{"values":[{"x":1.3,"y":-0.7,"t":"HFD"},{"x":2.3,"y":-0.7,"t":"HFLP"},{"x":4.0,"y":-0.7,"t":"HFD"},{"x":5.0,"y":-0.7,"t":"HFLP"}]},"mark":{"type":"text","fontSize":12,"angle":320,"align":"right","baseline":"middle","clip":false},"encoding":{"x":{"field":"x","type":"quantitative"},"y":{"field":"y","type":"quantitative"},"text":{"field":"t"}}},
    {"data":{"values":[{"b":1,"o":1,"x":1,"y":3.3},{"b":1,"o":2,"x":1,"y":15.7},{"b":1,"o":3,"x":2,"y":15.7},{"b":1,"o":4,"x":2,"y":15.1},{"b":2,"o":1,"x":3.7,"y":10.2},{"b":2,"o":2,"x":3.7,"y":12.3},{"b":2,"o":3,"x":4.7,"y":12.3},{"b":2,"o":4,"x":4.7,"y":11.4}]},"mark":{"type":"line","color":"black","strokeWidth":2.5,"clip":false},"encoding":{"x":{"field":"x","type":"quantitative"},"y":{"field":"y","type":"quantitative"},"detail":{"field":"b","type":"nominal"},"order":{"field":"o","type":"quantitative"}}},
    {"data":{"values":[{"x":1.5,"y":16.5,"t":"*"},{"x":4.2,"y":13.3,"t":"*"}]},"mark":{"type":"text","fontSize":17,"fontWeight":"bold","baseline":"alphabetic","dy":9,"clip":false},"encoding":{"x":{"field":"x","type":"quantitative"},"y":{"field":"y","type":"quantitative"},"text":{"field":"t"}}},
    {"data":{"values":[{"b":1,"o":1,"x":0.24,"y":-3.7},{"b":1,"o":2,"x":0.24,"y":-4.2},{"b":1,"o":3,"x":2.38,"y":-4.2},{"b":1,"o":4,"x":2.38,"y":-3.7},{"b":2,"o":1,"x":3.02,"y":-3.7},{"b":2,"o":2,"x":3.02,"y":-4.2},{"b":2,"o":3,"x":5.16,"y":-4.2},{"b":2,"o":4,"x":5.16,"y":-3.7}]},"mark":{"type":"line","color":"black","strokeWidth":1.2,"clip":false},"encoding":{"x":{"field":"x","type":"quantitative"},"y":{"field":"y","type":"quantitative"},"detail":{"field":"b","type":"nominal"},"order":{"field":"o","type":"quantitative"}}},
    {"data":{"values":[{"x":1.3,"y":-5.0,"t":"WT"},{"x":4.1,"y":-5.0,"t":"KLB\nVgat-KO"}]},"mark":{"type":"text","fontSize":12.5,"baseline":"top","lineBreak":"\n","lineHeight":14,"clip":false},"encoding":{"x":{"field":"x","type":"quantitative"},"y":{"field":"y","type":"quantitative"},"text":{"field":"t"}}}
   ]},
   {"title":{"text":"E","offset":-14},"width":124,"height":112,"layer":[
    {"data":{"values":[
     {"c":"WT HFD","x":1.0,"y":6.3},{"c":"WT HFD","x":0.85,"y":2.6},{"c":"WT HFD","x":1.15,"y":2.4},{"c":"WT HFD","x":0.75,"y":2.2},{"c":"WT HFD","x":1.3,"y":2.0},{"c":"WT HFD","x":0.95,"y":1.8},{"c":"WT HFD","x":1.1,"y":1.5},{"c":"WT HFD","x":0.85,"y":1.0},{"c":"WT HFD","x":1.05,"y":0.5},
     {"c":"WT HFLP","x":1.8,"y":20.3},{"c":"WT HFLP","x":2.1,"y":20.5},{"c":"WT HFLP","x":2.3,"y":20.2},{"c":"WT HFLP","x":2.0,"y":16.3},{"c":"WT HFLP","x":2.0,"y":14.7},{"c":"WT HFLP","x":2.15,"y":8.1},{"c":"WT HFLP","x":1.85,"y":7.4},
     {"c":"KO HFD","x":3.7,"y":14.7},{"c":"KO HFD","x":3.55,"y":2.9},{"c":"KO HFD","x":3.85,"y":2.5},{"c":"KO HFD","x":3.45,"y":2.2},{"c":"KO HFD","x":3.95,"y":1.5},{"c":"KO HFD","x":3.6,"y":1.0},{"c":"KO HFD","x":3.8,"y":0.5},{"c":"KO HFD","x":3.5,"y":0.3},
     {"c":"KO HFLP","x":4.9,"y":18.2},{"c":"KO HFLP","x":4.65,"y":17.5},{"c":"KO HFLP","x":4.6,"y":15.7},{"c":"KO HFLP","x":4.9,"y":14.0},{"c":"KO HFLP","x":4.75,"y":13.0},{"c":"KO HFLP","x":4.75,"y":8.0},{"c":"KO HFLP","x":4.75,"y":1.6}
    ]},
     "mark":{"type":"point","filled":false,"size":26,"strokeWidth":1.4,"opacity":1},
     "encoding":{
      "x":{"field":"x","type":"quantitative","scale":{"domain":[0.2,5.5],"nice":false,"zero":false},"axis":{"title":null,"labels":false,"ticks":false,"domainWidth":2.5}},
      "y":{"field":"y","type":"quantitative","scale":{"domain":[0,25],"nice":false,"zero":false},"axis":{"values":[0,5,10,15,20,25],"title":"Plasma FGF21 (ng/mL)","domainWidth":2.5,"tickWidth":2,"tickSize":4,"labelFontSize":9,"labelFontWeight":"bold","titleFontSize":11.5,"titlePadding":3,"labelPadding":2}},
      "shape":{"field":"c","type":"nominal","scale":{"domain":["WT HFD","WT HFLP","KO HFD","KO HFLP"],"range":["circle","square","circle","square"]},"legend":null},
      "color":{"field":"c","type":"nominal","scale":{"domain":["WT HFD","WT HFLP","KO HFD","KO HFLP"],"range":["black","black","#22b722","#22b722"]},"legend":null},
      "fill":{"field":"c","type":"nominal","scale":{"domain":["WT HFD","WT HFLP","KO HFD","KO HFLP"],"range":["white","black","white","#22b722"]},"legend":null}}},
    {"data":{"values":[{"x":1,"m":2.2,"lo":1.6,"hi":2.7},{"x":2,"m":15.5,"lo":13.3,"hi":17.7},{"x":3.7,"m":3.2,"lo":1.6,"hi":4.8},{"x":4.7,"m":12.8,"lo":10.7,"hi":14.8}]},"layer":[
     {"mark":{"type":"rule","strokeWidth":2.2,"color":"black"},"encoding":{"x":{"field":"x","type":"quantitative"},"y":{"field":"lo","type":"quantitative"},"y2":{"field":"hi"}}},
     {"mark":{"type":"tick","orient":"horizontal","size":18,"thickness":2.5,"color":"black","opacity":1},"encoding":{"x":{"field":"x","type":"quantitative"},"y":{"field":"m","type":"quantitative"}}},
     {"mark":{"type":"tick","orient":"horizontal","size":10,"thickness":2,"color":"black","opacity":1},"encoding":{"x":{"field":"x","type":"quantitative"},"y":{"field":"lo","type":"quantitative"}}},
     {"mark":{"type":"tick","orient":"horizontal","size":10,"thickness":2,"color":"black","opacity":1},"encoding":{"x":{"field":"x","type":"quantitative"},"y":{"field":"hi","type":"quantitative"}}}
    ]},
    {"data":{"values":[{"x":1.3,"y":-1.1,"t":"HFD"},{"x":2.3,"y":-1.1,"t":"HFLP"},{"x":4.0,"y":-1.1,"t":"HFD"},{"x":5.0,"y":-1.1,"t":"HFLP"}]},"mark":{"type":"text","fontSize":12,"angle":320,"align":"right","baseline":"middle","clip":false},"encoding":{"x":{"field":"x","type":"quantitative"},"y":{"field":"y","type":"quantitative"},"text":{"field":"t"}}},
    {"data":{"values":[{"b":1,"o":1,"x":1,"y":8.3},{"b":1,"o":2,"x":1,"y":24.2},{"b":1,"o":3,"x":2,"y":24.2},{"b":1,"o":4,"x":2,"y":22.1},{"b":2,"o":1,"x":3.7,"y":16.5},{"b":2,"o":2,"x":3.7,"y":21.4},{"b":2,"o":3,"x":4.7,"y":21.4},{"b":2,"o":4,"x":4.7,"y":19.3}]},"mark":{"type":"line","color":"black","strokeWidth":2.5,"clip":false},"encoding":{"x":{"field":"x","type":"quantitative"},"y":{"field":"y","type":"quantitative"},"detail":{"field":"b","type":"nominal"},"order":{"field":"o","type":"quantitative"}}},
    {"data":{"values":[{"x":1.5,"y":25.7,"t":"*"},{"x":4.15,"y":23.2,"t":"*"}]},"mark":{"type":"text","fontSize":17,"fontWeight":"bold","baseline":"alphabetic","dy":9,"clip":false},"encoding":{"x":{"field":"x","type":"quantitative"},"y":{"field":"y","type":"quantitative"},"text":{"field":"t"}}},
    {"data":{"values":[{"b":1,"o":1,"x":0.24,"y":-6.2},{"b":1,"o":2,"x":0.24,"y":-7.5},{"b":1,"o":3,"x":2.38,"y":-7.5},{"b":1,"o":4,"x":2.38,"y":-6.2},{"b":2,"o":1,"x":3.02,"y":-6.2},{"b":2,"o":2,"x":3.02,"y":-7.5},{"b":2,"o":3,"x":5.16,"y":-7.5},{"b":2,"o":4,"x":5.16,"y":-6.2}]},"mark":{"type":"line","color":"black","strokeWidth":1.2,"clip":false},"encoding":{"x":{"field":"x","type":"quantitative"},"y":{"field":"y","type":"quantitative"},"detail":{"field":"b","type":"nominal"},"order":{"field":"o","type":"quantitative"}}},
    {"data":{"values":[{"x":1.3,"y":-8.4,"t":"WT"},{"x":4.1,"y":-8.4,"t":"KLB\nVgat-KO"}]},"mark":{"type":"text","fontSize":12.5,"baseline":"top","lineBreak":"\n","lineHeight":14,"clip":false},"encoding":{"x":{"field":"x","type":"quantitative"},"y":{"field":"y","type":"quantitative"},"text":{"field":"t"}}}
   ]}
  ]}
 ],"spacing":18}
],"spacing":10},
{"resolve":{"scale":{"color":"independent","fill":"independent","stroke":"independent","shape":"independent"}},"hconcat":[
 {"title":{"text":"F","offset":-22},"width":207,"height":139,"layer":[
  {"data":{"values":[
   {"s":"WT - HFD","t":0,"m":26.6,"lo":26.0,"hi":27.2},{"s":"WT - HFD","t":1,"m":31.1,"lo":30.4,"hi":31.8},{"s":"WT - HFD","t":2,"m":33.4,"lo":32.6,"hi":34.2},{"s":"WT - HFD","t":3,"m":34.3,"lo":33.5,"hi":35.1},{"s":"WT - HFD","t":4,"m":35.2,"lo":34.3,"hi":36.1},{"s":"WT - HFD","t":5,"m":37.3,"lo":36.4,"hi":38.2},
   {"s":"WT - HFLP","t":0,"m":26.2,"lo":25.6,"hi":26.8},{"s":"WT - HFLP","t":1,"m":28.5,"lo":27.6,"hi":29.4},{"s":"WT - HFLP","t":2,"m":29.4,"lo":28.2,"hi":30.7},{"s":"WT - HFLP","t":3,"m":29.9,"lo":28.6,"hi":31.3},{"s":"WT - HFLP","t":4,"m":31.1,"lo":29.7,"hi":32.6},{"s":"WT - HFLP","t":5,"m":32.6,"lo":30.9,"hi":34.3},
   {"s":"KLB Vglut2-KO - HFD","t":0,"m":26.9,"lo":26.4,"hi":27.4},{"s":"KLB Vglut2-KO - HFD","t":1,"m":31.8,"lo":31.2,"hi":32.4},{"s":"KLB Vglut2-KO - HFD","t":2,"m":34.0,"lo":33.3,"hi":34.7},{"s":"KLB Vglut2-KO - HFD","t":3,"m":35.2,"lo":34.4,"hi":36.0},{"s":"KLB Vglut2-KO - HFD","t":4,"m":36.2,"lo":35.4,"hi":37.0},{"s":"KLB Vglut2-KO - HFD","t":5,"m":38.4,"lo":37.6,"hi":39.2},
   {"s":"KLB Vglut2-KO - HFLP","t":0,"m":26.4,"lo":25.8,"hi":27.0},{"s":"KLB Vglut2-KO - HFLP","t":1,"m":30.2,"lo":29.3,"hi":31.1},{"s":"KLB Vglut2-KO - HFLP","t":2,"m":32.6,"lo":31.7,"hi":33.5},{"s":"KLB Vglut2-KO - HFLP","t":3,"m":34.0,"lo":33.1,"hi":34.9},{"s":"KLB Vglut2-KO - HFLP","t":4,"m":35.0,"lo":34.0,"hi":36.0},{"s":"KLB Vglut2-KO - HFLP","t":5,"m":37.0,"lo":36.0,"hi":38.0}
  ]},"layer":[
   {"mark":{"type":"point","filled":true,"size":36,"strokeWidth":1.6,"opacity":1},"encoding":{"x":{"field":"t","type":"quantitative","scale":{"domain":[0,5],"nice":false,"zero":false},"axis":{"values":[0,1,2,3,4,5],"title":"Time (weeks)","format":"d","domainWidth":2.5,"tickWidth":2,"tickSize":5,"labelFontSize":10,"labelFontWeight":"bold","titleFontSize":13,"titlePadding":6,"labelPadding":3}},"y":{"field":"m","type":"quantitative","scale":{"domain":[20,45],"nice":false,"zero":false},"axis":{"values":[20,25,30,35,40,45],"title":"Body Weight (g)","domainWidth":2.5,"tickWidth":2,"tickSize":5,"labelFontSize":10,"labelFontWeight":"bold","titleFontSize":13,"titlePadding":5,"labelPadding":2}},"stroke":{"field":"s","type":"nominal","scale":{"domain":["WT - HFD","WT - HFLP","KLB Vglut2-KO - HFD","KLB Vglut2-KO - HFLP"],"range":["black","black","#ff0000","#ff0000"]},"legend":{"orient":"none","legendX":6,"legendY":-28,"title":null,"labelFontSize":12,"symbolSize":40,"symbolStrokeWidth":1.6,"rowPadding":3,"labelOffset":6}},"fill":{"field":"s","type":"nominal","scale":{"domain":["WT - HFD","WT - HFLP","KLB Vglut2-KO - HFD","KLB Vglut2-KO - HFLP"],"range":["white","black","white","#ff0000"]},"legend":{"orient":"none","legendX":6,"legendY":-28,"title":null,"labelFontSize":12,"symbolSize":40,"symbolStrokeWidth":1.6,"rowPadding":3,"labelOffset":6}},"shape":{"field":"s","type":"nominal","scale":{"domain":["WT - HFD","WT - HFLP","KLB Vglut2-KO - HFD","KLB Vglut2-KO - HFLP"],"range":["circle","square","circle","square"]},"legend":{"orient":"none","legendX":6,"legendY":-28,"title":null,"labelFontSize":12,"symbolSize":40,"symbolStrokeWidth":1.6,"rowPadding":3,"labelOffset":6}}}},
   {"mark":{"type":"line","strokeWidth":1.4},"encoding":{"x":{"field":"t","type":"quantitative"},"y":{"field":"m","type":"quantitative"},"stroke":{"field":"s","type":"nominal"}}},
   {"mark":{"type":"rule","strokeWidth":1.2},"encoding":{"x":{"field":"t","type":"quantitative"},"y":{"field":"lo","type":"quantitative"},"y2":{"field":"hi"},"stroke":{"field":"s","type":"nominal"}}},
   {"mark":{"type":"tick","orient":"horizontal","size":7,"thickness":0.1,"filled":false,"strokeWidth":1.2,"opacity":1},"encoding":{"x":{"field":"t","type":"quantitative"},"y":{"field":"lo","type":"quantitative"},"stroke":{"field":"s","type":"nominal"}}},
   {"mark":{"type":"tick","orient":"horizontal","size":7,"thickness":0.1,"filled":false,"strokeWidth":1.2,"opacity":1},"encoding":{"x":{"field":"t","type":"quantitative"},"y":{"field":"hi","type":"quantitative"},"stroke":{"field":"s","type":"nominal"}}},
   {"mark":{"type":"point","filled":true,"size":36,"strokeWidth":1.6,"opacity":1},"encoding":{"x":{"field":"t","type":"quantitative"},"y":{"field":"m","type":"quantitative"},"stroke":{"field":"s","type":"nominal"},"fill":{"field":"s","type":"nominal"},"shape":{"field":"s","type":"nominal"}}}
  ]},
  {"data":{"values":[{"b":1,"o":1,"t":5.12,"m":37.3},{"b":1,"o":2,"t":5.22,"m":37.3},{"b":1,"o":3,"t":5.22,"m":32.6},{"b":1,"o":4,"t":5.12,"m":32.6}]},"mark":{"type":"line","color":"black","strokeWidth":1,"clip":false},"encoding":{"x":{"field":"t","type":"quantitative"},"y":{"field":"m","type":"quantitative"},"detail":{"field":"b","type":"nominal"},"order":{"field":"o","type":"quantitative"}}},
  {"data":{"values":[{"t":5.43,"m":35.0,"lab":"*"}]},"mark":{"type":"text","fontSize":16,"fontWeight":"bold","baseline":"alphabetic","dy":9,"clip":false},"encoding":{"x":{"field":"t","type":"quantitative"},"y":{"field":"m","type":"quantitative"},"text":{"field":"lab"}}}
 ]},
 {"title":{"text":"G","offset":-22},"width":207,"height":139,"layer":[
  {"data":{"values":[
   {"s":"WT - HFD","t":0,"m":26.9,"lo":26.2,"hi":27.6},{"s":"WT - HFD","t":1,"m":30.6,"lo":29.6,"hi":31.6},{"s":"WT - HFD","t":2,"m":32.1,"lo":30.9,"hi":33.3},{"s":"WT - HFD","t":3,"m":34.9,"lo":33.4,"hi":36.4},{"s":"WT - HFD","t":4,"m":36.8,"lo":35.0,"hi":38.6},{"s":"WT - HFD","t":5,"m":40.2,"lo":38.4,"hi":42.0},
   {"s":"WT - HFLP","t":0,"m":26.4,"lo":25.6,"hi":27.2},{"s":"WT - HFLP","t":1,"m":29.1,"lo":27.9,"hi":30.3},{"s":"WT - HFLP","t":2,"m":29.5,"lo":28.2,"hi":30.8},{"s":"WT - HFLP","t":3,"m":31.5,"lo":30.0,"hi":33.0},{"s":"WT - HFLP","t":4,"m":33.2,"lo":31.4,"hi":35.0},{"s":"WT - HFLP","t":5,"m":35.9,"lo":34.1,"hi":37.7},
   {"s":"KLB Vgat-KO - HFD","t":0,"m":27.2,"lo":26.4,"hi":28.0},{"s":"KLB Vgat-KO - HFD","t":1,"m":31.4,"lo":30.2,"hi":32.6},{"s":"KLB Vgat-KO - HFD","t":2,"m":32.3,"lo":31.0,"hi":33.6},{"s":"KLB Vgat-KO - HFD","t":3,"m":35.6,"lo":34.0,"hi":37.2},{"s":"KLB Vgat-KO - HFD","t":4,"m":37.4,"lo":35.4,"hi":39.4},{"s":"KLB Vgat-KO - HFD","t":5,"m":40.2,"lo":38.2,"hi":42.2},
   {"s":"KLB Vgat-KO - HFLP","t":0,"m":27.0,"lo":26.2,"hi":27.8},{"s":"KLB Vgat-KO - HFLP","t":1,"m":29.8,"lo":28.5,"hi":31.1},{"s":"KLB Vgat-KO - HFLP","t":2,"m":29.4,"lo":28.0,"hi":30.8},{"s":"KLB Vgat-KO - HFLP","t":3,"m":31.8,"lo":30.2,"hi":33.4},{"s":"KLB Vgat-KO - HFLP","t":4,"m":33.6,"lo":31.6,"hi":35.6},{"s":"KLB Vgat-KO - HFLP","t":5,"m":35.3,"lo":33.1,"hi":37.5}
  ]},"layer":[
   {"mark":{"type":"point","filled":true,"size":36,"strokeWidth":1.6,"opacity":1},"encoding":{"x":{"field":"t","type":"quantitative","scale":{"domain":[0,5],"nice":false,"zero":false},"axis":{"values":[0,1,2,3,4,5],"title":"Time (weeks)","format":"d","domainWidth":2.5,"tickWidth":2,"tickSize":5,"labelFontSize":10,"labelFontWeight":"bold","titleFontSize":13,"titlePadding":6,"labelPadding":3}},"y":{"field":"m","type":"quantitative","scale":{"domain":[20,45],"nice":false,"zero":false},"axis":{"values":[20,25,30,35,40,45],"title":"Body Weight (g)","domainWidth":2.5,"tickWidth":2,"tickSize":5,"labelFontSize":10,"labelFontWeight":"bold","titleFontSize":13,"titlePadding":5,"labelPadding":2}},"stroke":{"field":"s","type":"nominal","scale":{"domain":["WT - HFD","WT - HFLP","KLB Vgat-KO - HFD","KLB Vgat-KO - HFLP"],"range":["black","black","#22b722","#22b722"]},"legend":{"orient":"none","legendX":8,"legendY":-28,"title":null,"labelFontSize":12,"symbolSize":40,"symbolStrokeWidth":1.6,"rowPadding":3,"labelOffset":6}},"fill":{"field":"s","type":"nominal","scale":{"domain":["WT - HFD","WT - HFLP","KLB Vgat-KO - HFD","KLB Vgat-KO - HFLP"],"range":["white","black","white","#22b722"]},"legend":{"orient":"none","legendX":8,"legendY":-28,"title":null,"labelFontSize":12,"symbolSize":40,"symbolStrokeWidth":1.6,"rowPadding":3,"labelOffset":6}},"shape":{"field":"s","type":"nominal","scale":{"domain":["WT - HFD","WT - HFLP","KLB Vgat-KO - HFD","KLB Vgat-KO - HFLP"],"range":["circle","square","circle","square"]},"legend":{"orient":"none","legendX":8,"legendY":-28,"title":null,"labelFontSize":12,"symbolSize":40,"symbolStrokeWidth":1.6,"rowPadding":3,"labelOffset":6}}}},
   {"mark":{"type":"line","strokeWidth":1.4},"encoding":{"x":{"field":"t","type":"quantitative"},"y":{"field":"m","type":"quantitative"},"stroke":{"field":"s","type":"nominal"}}},
   {"mark":{"type":"rule","strokeWidth":1.2},"encoding":{"x":{"field":"t","type":"quantitative"},"y":{"field":"lo","type":"quantitative"},"y2":{"field":"hi"},"stroke":{"field":"s","type":"nominal"}}},
   {"mark":{"type":"tick","orient":"horizontal","size":7,"thickness":0.1,"filled":false,"strokeWidth":1.2,"opacity":1},"encoding":{"x":{"field":"t","type":"quantitative"},"y":{"field":"lo","type":"quantitative"},"stroke":{"field":"s","type":"nominal"}}},
   {"mark":{"type":"tick","orient":"horizontal","size":7,"thickness":0.1,"filled":false,"strokeWidth":1.2,"opacity":1},"encoding":{"x":{"field":"t","type":"quantitative"},"y":{"field":"hi","type":"quantitative"},"stroke":{"field":"s","type":"nominal"}}},
   {"mark":{"type":"point","filled":true,"size":36,"strokeWidth":1.6,"opacity":1},"encoding":{"x":{"field":"t","type":"quantitative"},"y":{"field":"m","type":"quantitative"},"stroke":{"field":"s","type":"nominal"},"fill":{"field":"s","type":"nominal"},"shape":{"field":"s","type":"nominal"}}}
  ]},
  {"data":{"values":[{"b":1,"o":1,"t":5.18,"m":40.0},{"b":1,"o":2,"t":5.3,"m":40.0},{"b":1,"o":3,"t":5.3,"m":35.4},{"b":1,"o":4,"t":5.18,"m":35.4}]},"mark":{"type":"line","color":"black","strokeWidth":1,"clip":false},"encoding":{"x":{"field":"t","type":"quantitative"},"y":{"field":"m","type":"quantitative"},"detail":{"field":"b","type":"nominal"},"order":{"field":"o","type":"quantitative"}}},
  {"data":{"values":[{"t":5.5,"m":38.0,"lab":"*"}]},"mark":{"type":"text","fontSize":16,"fontWeight":"bold","baseline":"alphabetic","dy":9,"clip":false},"encoding":{"x":{"field":"t","type":"quantitative"},"y":{"field":"m","type":"quantitative"},"text":{"field":"lab"}}}
 ]}
],"spacing":14},
{"resolve":{"scale":{"color":"independent","fill":"independent","stroke":"independent","shape":"independent"}},"hconcat":[
 {"title":{"text":"H","offset":-15},"width":143,"height":140,"layer":[
  {"data":{"values":[{"c":"WT HFD","x":1,"v":0.95,"e":1.24},{"c":"WT HFLP","x":2,"v":4.1,"e":6.15},{"c":"KO HFD","x":3.3,"v":1.3,"e":1.52},{"c":"KO HFLP","x":4.3,"v":0.8,"e":1.05}]},"layer":[
   {"mark":{"type":"bar","size":17,"strokeWidth":2.5},"encoding":{"x":{"field":"x","type":"quantitative","scale":{"domain":[0.3,4.9],"nice":false,"zero":false},"axis":{"title":null,"values":[1,2,3.3,4.3],"labelExpr":"(datum.value == 1 || datum.value == 3.3) ? 'HFD' : 'HFLP'","ticks":false,"domainWidth":2.5,"labelFontSize":11,"labelPadding":3,"labelOverlap":false}},"y":{"field":"v","type":"quantitative","scale":{"domain":[0,8],"nice":false,"zero":false},"axis":{"values":[0,2,4,6,8],"title":"Relative mRNA levels","domainWidth":2.5,"tickWidth":2,"tickSize":4,"labelFontSize":9,"labelFontWeight":"bold","titleFontSize":12,"titlePadding":6,"labelPadding":2}},"fill":{"field":"c","type":"nominal","scale":{"domain":["WT HFD","WT HFLP","KO HFD","KO HFLP"],"range":["white","black","white","#ff0000"]},"legend":null},"stroke":{"field":"c","type":"nominal","scale":{"domain":["WT HFD","WT HFLP","KO HFD","KO HFLP"],"range":["black","black","#ff0000","#ff0000"]},"legend":null}}},
   {"mark":{"type":"rule","strokeWidth":2},"encoding":{"x":{"field":"x","type":"quantitative"},"y":{"field":"v","type":"quantitative"},"y2":{"field":"e"},"color":{"field":"c","type":"nominal","scale":{"domain":["WT HFD","WT HFLP","KO HFD","KO HFLP"],"range":["black","black","#ff0000","#ff0000"]},"legend":null}}},
   {"mark":{"type":"tick","orient":"horizontal","size":9,"thickness":2,"opacity":1},"encoding":{"x":{"field":"x","type":"quantitative"},"y":{"field":"e","type":"quantitative"},"color":{"field":"c","type":"nominal"}}}
  ]},
  {"data":{"values":[{"x":2.6,"y":8.8,"t":"BAT Ucp1 mRNA"},{"x":1.4,"y":7.55,"t":"P = .0674"}]},"mark":{"type":"text","fontSize":12.5,"baseline":"middle","clip":false},"encoding":{"x":{"field":"x","type":"quantitative"},"y":{"field":"y","type":"quantitative"},"text":{"field":"t"}}},
  {"data":{"values":[{"b":1,"o":1,"x":1,"y":1.7},{"b":1,"o":2,"x":1,"y":6.9},{"b":1,"o":3,"x":2,"y":6.9},{"b":1,"o":4,"x":2,"y":6.5}]},"mark":{"type":"line","color":"black","strokeWidth":2.5,"clip":false},"encoding":{"x":{"field":"x","type":"quantitative"},"y":{"field":"y","type":"quantitative"},"detail":{"field":"b","type":"nominal"},"order":{"field":"o","type":"quantitative"}}},
  {"data":{"values":[{"b":1,"o":1,"x":0.51,"y":-0.83},{"b":1,"o":2,"x":0.51,"y":-1.0},{"b":1,"o":3,"x":2.38,"y":-1.0},{"b":1,"o":4,"x":2.38,"y":-0.83},{"b":2,"o":1,"x":2.93,"y":-0.83},{"b":2,"o":2,"x":2.93,"y":-1.0},{"b":2,"o":3,"x":4.73,"y":-1.0},{"b":2,"o":4,"x":4.73,"y":-0.83}]},"mark":{"type":"line","color":"black","strokeWidth":1.2,"clip":false},"encoding":{"x":{"field":"x","type":"quantitative"},"y":{"field":"y","type":"quantitative"},"detail":{"field":"b","type":"nominal"},"order":{"field":"o","type":"quantitative"}}},
  {"data":{"values":[{"x":1.45,"y":-1.39,"t":"WT"},{"x":3.83,"y":-1.39,"t":"KLB Vglut2-KO"}]},"mark":{"type":"text","fontSize":12,"baseline":"top","clip":false},"encoding":{"x":{"field":"x","type":"quantitative"},"y":{"field":"y","type":"quantitative"},"text":{"field":"t"}}}
 ]},
 {"title":{"text":"I","offset":-15},"width":147,"height":140,"layer":[
  {"data":{"values":[{"c":"WT HFD","x":1,"v":0.95,"e":1.3},{"c":"WT HFLP","x":2,"v":13.8,"e":25.3},{"c":"KO HFD","x":3.6,"v":0.6,"e":0.95},{"c":"KO HFLP","x":4.6,"v":1.45,"e":2.0}]},"layer":[
   {"mark":{"type":"bar","size":18,"strokeWidth":2},"encoding":{"x":{"field":"x","type":"quantitative","scale":{"domain":[0.2,5.28],"nice":false,"zero":false},"axis":{"title":null,"values":[1,2,3.6,4.6],"labelExpr":"(datum.value == 1 || datum.value == 3.6) ? 'HFD' : 'HFLP'","ticks":false,"domainWidth":2.5,"labelFontSize":10.5,"labelPadding":3,"labelOverlap":false}},"y":{"field":"v","type":"quantitative","scale":{"domain":[0,30],"nice":false,"zero":false},"axis":{"values":[0,10,20,30],"title":"Relative mRNA levels","domainWidth":2.5,"tickWidth":2,"tickSize":4,"labelFontSize":9,"labelFontWeight":"bold","titleFontSize":12,"titlePadding":6,"labelPadding":2}},"fill":{"field":"c","type":"nominal","scale":{"domain":["WT HFD","WT HFLP","KO HFD","KO HFLP"],"range":["white","black","white","#ff0000"]},"legend":null},"stroke":{"field":"c","type":"nominal","scale":{"domain":["WT HFD","WT HFLP","KO HFD","KO HFLP"],"range":["#555555","black","#ff0000","#ff0000"]},"legend":null}}},
   {"mark":{"type":"rule","strokeWidth":1.5},"encoding":{"x":{"field":"x","type":"quantitative"},"y":{"field":"v","type":"quantitative"},"y2":{"field":"e"},"color":{"field":"c","type":"nominal","scale":{"domain":["WT HFD","WT HFLP","KO HFD","KO HFLP"],"range":["#555555","black","#ff0000","#ff0000"]},"legend":null}}},
   {"mark":{"type":"tick","orient":"horizontal","size":9,"thickness":1.5,"opacity":1},"encoding":{"x":{"field":"x","type":"quantitative"},"y":{"field":"e","type":"quantitative"},"color":{"field":"c","type":"nominal"}}}
  ]},
  {"data":{"values":[{"x":2.75,"y":32.8,"t":"iWAT Ucp1 mRNA"}]},"mark":{"type":"text","fontSize":12.5,"baseline":"middle","clip":false},"encoding":{"x":{"field":"x","type":"quantitative"},"y":{"field":"y","type":"quantitative"},"text":{"field":"t"}}},
  {"data":{"values":[{"b":1,"o":1,"x":0.55,"y":-3.1},{"b":1,"o":2,"x":0.55,"y":-3.8},{"b":1,"o":3,"x":2.45,"y":-3.8},{"b":1,"o":4,"x":2.45,"y":-3.1},{"b":2,"o":1,"x":3.1,"y":-3.1},{"b":2,"o":2,"x":3.1,"y":-3.8},{"b":2,"o":3,"x":5.17,"y":-3.8},{"b":2,"o":4,"x":5.17,"y":-3.1}]},"mark":{"type":"line","color":"black","strokeWidth":1.2,"clip":false},"encoding":{"x":{"field":"x","type":"quantitative"},"y":{"field":"y","type":"quantitative"},"detail":{"field":"b","type":"nominal"},"order":{"field":"o","type":"quantitative"}}},
  {"data":{"values":[{"x":1.5,"y":-5.2,"t":"WT"},{"x":4.14,"y":-5.2,"t":"KLB Vglut2-KO"}]},"mark":{"type":"text","fontSize":12,"baseline":"top","clip":false},"encoding":{"x":{"field":"x","type":"quantitative"},"y":{"field":"y","type":"quantitative"},"text":{"field":"t"}}}
 ]},
 {"title":{"text":"J"},"width":168,"height":140,"layer":[
  {"data":{"values":[{"c":"WT HFD","x":1,"v":0.336,"e":0.347},{"c":"WT HFLP","x":2,"v":0.365,"e":0.389},{"c":"KO HFD","x":3.65,"v":0.338,"e":0.349},{"c":"KO HFLP","x":4.65,"v":0.288,"e":0.297}]},"layer":[
   {"mark":{"type":"bar","size":21,"strokeWidth":3},"encoding":{"x":{"field":"x","type":"quantitative","scale":{"domain":[0.35,5.3],"nice":false,"zero":false},"axis":{"title":null,"values":[1,2,3.65,4.65],"labelExpr":"(datum.value == 1 || datum.value == 3.65) ? 'HFD' : 'HFLP'","ticks":false,"domainWidth":2.5,"labelFontSize":11.5,"labelPadding":3,"labelOverlap":false}},"y":{"field":"v","type":"quantitative","scale":{"domain":[0,0.5],"nice":false,"zero":false},"axis":{"values":[0,0.1,0.2,0.3,0.4],"format":".1f","domain":false,"title":["Total Energy Expenditure","(kcal/hr)"],"tickWidth":2,"tickSize":4,"labelFontSize":8,"labelFontWeight":"bold","titleFontSize":12,"titlePadding":6,"labelPadding":2}},"fill":{"field":"c","type":"nominal","scale":{"domain":["WT HFD","WT HFLP","KO HFD","KO HFLP"],"range":["white","black","white","#ff0000"]},"legend":null},"stroke":{"field":"c","type":"nominal","scale":{"domain":["WT HFD","WT HFLP","KO HFD","KO HFLP"],"range":["black","black","#ff0000","#ff0000"]},"legend":null}}},
   {"mark":{"type":"rule","strokeWidth":2},"encoding":{"x":{"field":"x","type":"quantitative"},"y":{"field":"v","type":"quantitative"},"y2":{"field":"e"},"color":{"field":"c","type":"nominal","scale":{"domain":["WT HFD","WT HFLP","KO HFD","KO HFLP"],"range":["black","black","#ff0000","#ff0000"]},"legend":null}}},
   {"mark":{"type":"tick","orient":"horizontal","size":11,"thickness":2,"opacity":1},"encoding":{"x":{"field":"x","type":"quantitative"},"y":{"field":"e","type":"quantitative"},"color":{"field":"c","type":"nominal"}}}
  ]},
  {"data":{"values":[{}]},"mark":{"type":"rule","strokeWidth":2.5,"color":"black"},"encoding":{"x":{"datum":0.35},"y":{"datum":0},"y2":{"datum":0.4}}},
  {"data":{"values":[{"b":1,"o":1,"x":1,"y":0.38},{"b":1,"o":2,"x":1,"y":0.428},{"b":1,"o":3,"x":2,"y":0.428},{"b":1,"o":4,"x":2,"y":0.405},{"b":2,"o":1,"x":3.65,"y":0.372},{"b":2,"o":2,"x":3.65,"y":0.399},{"b":2,"o":3,"x":4.65,"y":0.399},{"b":2,"o":4,"x":4.65,"y":0.32}]},"mark":{"type":"line","color":"black","strokeWidth":2.5,"clip":false},"encoding":{"x":{"field":"x","type":"quantitative"},"y":{"field":"y","type":"quantitative"},"detail":{"field":"b","type":"nominal"},"order":{"field":"o","type":"quantitative"}}},
  {"data":{"values":[{"x":1.5,"y":0.465,"t":"P = 0.1454"}]},"mark":{"type":"text","fontSize":10,"baseline":"middle","clip":false},"encoding":{"x":{"field":"x","type":"quantitative"},"y":{"field":"y","type":"quantitative"},"text":{"field":"t"}}},
  {"data":{"values":[{"x":4.15,"y":0.421,"t":"*"}]},"mark":{"type":"text","fontSize":13,"fontWeight":"bold","baseline":"alphabetic","dy":7,"clip":false},"encoding":{"x":{"field":"x","type":"quantitative"},"y":{"field":"y","type":"quantitative"},"text":{"field":"t"}}},
  {"data":{"values":[{"b":1,"o":1,"x":0.7,"y":-0.051},{"b":1,"o":2,"x":0.7,"y":-0.066},{"b":1,"o":3,"x":2.32,"y":-0.066},{"b":1,"o":4,"x":2.32,"y":-0.051},{"b":2,"o":1,"x":3.35,"y":-0.051},{"b":2,"o":2,"x":3.35,"y":-0.066},{"b":2,"o":3,"x":4.97,"y":-0.066},{"b":2,"o":4,"x":4.97,"y":-0.051}]},"mark":{"type":"line","color":"black","strokeWidth":1.2,"clip":false},"encoding":{"x":{"field":"x","type":"quantitative"},"y":{"field":"y","type":"quantitative"},"detail":{"field":"b","type":"nominal"},"order":{"field":"o","type":"quantitative"}}},
  {"data":{"values":[{"x":1.5,"y":-0.076,"t":"WT"},{"x":4.16,"y":-0.076,"t":"KLB Vglut2-KO"}]},"mark":{"type":"text","fontSize":12,"baseline":"top","clip":false},"encoding":{"x":{"field":"x","type":"quantitative"},"y":{"field":"y","type":"quantitative"},"text":{"field":"t"}}}
 ]}
],"spacing":32},
{"resolve":{"scale":{"color":"independent","fill":"independent","stroke":"independent","shape":"independent"}},"hconcat":[
 {"title":{"text":"K","offset":2},"width":206,"height":132,"resolve":{"scale":{"x":"independent"}},"layer":[
  {"data":{"values":[
   {"s":"WT-HFD","t":0,"m":189.6,"lo":182,"hi":197.7},{"s":"WT-HFD","t":15,"m":203.2,"lo":185.4,"hi":220.2},{"s":"WT-HFD","t":30,"m":178.7,"lo":159.6,"hi":197},{"s":"WT-HFD","t":60,"m":169.2,"lo":151,"hi":188.4},{"s":"WT-HFD","t":90,"m":223.2,"lo":199.9,"hi":246.6},
   {"s":"WT-HFLP","t":0,"m":169.2,"lo":163,"hi":175.7},{"s":"WT-HFLP","t":15,"m":134,"lo":115.2,"hi":153},{"s":"WT-HFLP","t":30,"m":108.5,"lo":94.9,"hi":117.4},{"s":"WT-HFLP","t":60,"m":109.8,"lo":90.3,"hi":127.7},{"s":"WT-HFLP","t":90,"m":134.4,"lo":112.4,"hi":155.3}
  ]},"layer":[
   {"mark":{"type":"point","filled":true,"size":60,"strokeWidth":2,"opacity":1},"encoding":{"x":{"field":"t","type":"ordinal","scale":{"type":"point","padding":0.66},"axis":{"title":"Time (min)","labelAngle":0,"ticks":false,"domainWidth":2.5,"labelFontSize":10,"labelFontWeight":"bold","titleFontSize":13,"titlePadding":6,"labelPadding":7}},"y":{"field":"m","type":"quantitative","scale":{"domain":[75,250],"nice":false,"zero":false},"axis":{"values":[100,150,200,250],"title":"Plasma Glucose (mg/dL)","domainWidth":2.5,"tickWidth":2,"tickSize":5,"labelFontSize":10,"labelFontWeight":"bold","titleFontSize":13,"titlePadding":5,"labelPadding":2}},"stroke":{"field":"s","type":"nominal","scale":{"domain":["WT-HFD","WT-HFLP"],"range":["black","black"]},"legend":{"orient":"none","legendX":6,"legendY":-14,"title":null,"labelFontSize":13,"symbolSize":60,"symbolStrokeWidth":2,"rowPadding":6,"labelOffset":8}},"fill":{"field":"s","type":"nominal","scale":{"domain":["WT-HFD","WT-HFLP"],"range":["white","black"]},"legend":{"orient":"none","legendX":6,"legendY":-14,"title":null,"labelFontSize":13,"symbolSize":60,"symbolStrokeWidth":2,"rowPadding":6,"labelOffset":8}},"shape":{"field":"s","type":"nominal","scale":{"domain":["WT-HFD","WT-HFLP"],"range":["circle","square"]},"legend":{"orient":"none","legendX":6,"legendY":-14,"title":null,"labelFontSize":13,"symbolSize":60,"symbolStrokeWidth":2,"rowPadding":6,"labelOffset":8}}}},
   {"mark":{"type":"line","strokeWidth":2},"encoding":{"x":{"field":"t","type":"ordinal"},"y":{"field":"m","type":"quantitative"},"stroke":{"field":"s","type":"nominal"}}},
   {"mark":{"type":"rule","strokeWidth":2},"encoding":{"x":{"field":"t","type":"ordinal"},"y":{"field":"lo","type":"quantitative"},"y2":{"field":"hi"},"stroke":{"field":"s","type":"nominal"}}},
   {"mark":{"type":"tick","orient":"horizontal","size":9,"thickness":0.1,"filled":false,"strokeWidth":2,"opacity":1},"encoding":{"x":{"field":"t","type":"ordinal"},"y":{"field":"lo","type":"quantitative"},"stroke":{"field":"s","type":"nominal"}}},
   {"mark":{"type":"tick","orient":"horizontal","size":9,"thickness":0.1,"filled":false,"strokeWidth":2,"opacity":1},"encoding":{"x":{"field":"t","type":"ordinal"},"y":{"field":"hi","type":"quantitative"},"stroke":{"field":"s","type":"nominal"}}},
   {"mark":{"type":"point","filled":true,"size":60,"strokeWidth":2,"opacity":1},"encoding":{"x":{"field":"t","type":"ordinal"},"y":{"field":"m","type":"quantitative"},"stroke":{"field":"s","type":"nominal"},"fill":{"field":"s","type":"nominal"},"shape":{"field":"s","type":"nominal"}}}
  ]},
  {"layer":[
   {"data":{"values":[{"b":1,"o":1,"i":4.21,"m":224.5},{"b":1,"o":2,"i":4.29,"m":224.5},{"b":1,"o":3,"i":4.29,"m":134},{"b":1,"o":4,"i":4.21,"m":134}]},"mark":{"type":"line","color":"black","strokeWidth":1,"clip":false},"encoding":{"x":{"field":"i","type":"quantitative","scale":{"domain":[-0.66,4.66],"nice":false,"zero":false},"axis":null},"y":{"field":"m","type":"quantitative"},"detail":{"field":"b","type":"nominal"},"order":{"field":"o","type":"quantitative"}}},
   {"data":{"values":[{"i":4.45,"m":179,"lab":"*"}]},"mark":{"type":"text","fontSize":16,"fontWeight":"bold","baseline":"alphabetic","dy":9,"clip":false},"encoding":{"x":{"field":"i","type":"quantitative"},"y":{"field":"m","type":"quantitative"},"text":{"field":"lab"}}}
  ]}
 ]},
 {"title":{"text":"L","offset":2},"width":207,"height":132,"resolve":{"scale":{"x":"independent"}},"layer":[
  {"data":{"values":[
   {"s":"KLB Vglut2-KO-HFD","t":0,"m":186,"lo":175,"hi":197.7},{"s":"KLB Vglut2-KO-HFD","t":15,"m":185.4,"lo":177.7,"hi":193.4},{"s":"KLB Vglut2-KO-HFD","t":30,"m":191.7,"lo":163,"hi":220.2},{"s":"KLB Vglut2-KO-HFD","t":60,"m":172.3,"lo":159.6,"hi":184.9},{"s":"KLB Vglut2-KO-HFD","t":90,"m":201.1,"lo":193.4,"hi":211.8},
   {"s":"KLB Vglut2-KO-HFLP","t":0,"m":177.7,"lo":168,"hi":187},{"s":"KLB Vglut2-KO-HFLP","t":15,"m":156.5,"lo":150,"hi":163},{"s":"KLB Vglut2-KO-HFLP","t":30,"m":126.8,"lo":114,"hi":137.4},{"s":"KLB Vglut2-KO-HFLP","t":60,"m":150.1,"lo":137.4,"hi":164},{"s":"KLB Vglut2-KO-HFLP","t":90,"m":182.1,"lo":175.9,"hi":193}
  ]},"layer":[
   {"mark":{"type":"point","filled":true,"size":60,"strokeWidth":2,"opacity":1},"encoding":{"x":{"field":"t","type":"ordinal","scale":{"type":"point","padding":0.66},"axis":{"title":"Time (min)","labelAngle":0,"ticks":false,"domainWidth":2.5,"labelFontSize":10,"labelFontWeight":"bold","titleFontSize":13,"titlePadding":6,"labelPadding":7}},"y":{"field":"m","type":"quantitative","scale":{"domain":[75,250],"nice":false,"zero":false},"axis":{"values":[100,150,200,250],"title":"Plasma Glucose (mg/dL)","domainWidth":2.5,"tickWidth":2,"tickSize":5,"labelFontSize":10,"labelFontWeight":"bold","titleFontSize":13,"titlePadding":5,"labelPadding":2}},"stroke":{"field":"s","type":"nominal","scale":{"domain":["KLB Vglut2-KO-HFD","KLB Vglut2-KO-HFLP"],"range":["#ff0000","#ff0000"]},"legend":{"orient":"none","legendX":8,"legendY":-14,"title":null,"labelFontSize":13,"symbolSize":60,"symbolStrokeWidth":2,"rowPadding":6,"labelOffset":8}},"fill":{"field":"s","type":"nominal","scale":{"domain":["KLB Vglut2-KO-HFD","KLB Vglut2-KO-HFLP"],"range":["white","#ff0000"]},"legend":{"orient":"none","legendX":8,"legendY":-14,"title":null,"labelFontSize":13,"symbolSize":60,"symbolStrokeWidth":2,"rowPadding":6,"labelOffset":8}},"shape":{"field":"s","type":"nominal","scale":{"domain":["KLB Vglut2-KO-HFD","KLB Vglut2-KO-HFLP"],"range":["circle","square"]},"legend":{"orient":"none","legendX":8,"legendY":-14,"title":null,"labelFontSize":13,"symbolSize":60,"symbolStrokeWidth":2,"rowPadding":6,"labelOffset":8}}}},
   {"mark":{"type":"line","strokeWidth":2},"encoding":{"x":{"field":"t","type":"ordinal"},"y":{"field":"m","type":"quantitative"},"stroke":{"field":"s","type":"nominal"}}},
   {"mark":{"type":"rule","strokeWidth":2},"encoding":{"x":{"field":"t","type":"ordinal"},"y":{"field":"lo","type":"quantitative"},"y2":{"field":"hi"},"stroke":{"field":"s","type":"nominal"}}},
   {"mark":{"type":"tick","orient":"horizontal","size":9,"thickness":0.1,"filled":false,"strokeWidth":2,"opacity":1},"encoding":{"x":{"field":"t","type":"ordinal"},"y":{"field":"lo","type":"quantitative"},"stroke":{"field":"s","type":"nominal"}}},
   {"mark":{"type":"tick","orient":"horizontal","size":9,"thickness":0.1,"filled":false,"strokeWidth":2,"opacity":1},"encoding":{"x":{"field":"t","type":"ordinal"},"y":{"field":"hi","type":"quantitative"},"stroke":{"field":"s","type":"nominal"}}},
   {"mark":{"type":"point","filled":true,"size":60,"strokeWidth":2,"opacity":1},"encoding":{"x":{"field":"t","type":"ordinal"},"y":{"field":"m","type":"quantitative"},"stroke":{"field":"s","type":"nominal"},"fill":{"field":"s","type":"nominal"},"shape":{"field":"s","type":"nominal"}}}
  ]},
  {"layer":[
   {"data":{"values":[{"b":1,"o":1,"i":4.25,"m":219},{"b":1,"o":2,"i":4.36,"m":219},{"b":1,"o":3,"i":4.36,"m":126},{"b":1,"o":4,"i":4.25,"m":126}]},"mark":{"type":"line","color":"black","strokeWidth":1,"clip":false},"encoding":{"x":{"field":"i","type":"quantitative","scale":{"domain":[-0.66,4.66],"nice":false,"zero":false},"axis":null},"y":{"field":"m","type":"quantitative"},"detail":{"field":"b","type":"nominal"},"order":{"field":"o","type":"quantitative"}}},
   {"data":{"values":[{"i":4.59,"m":169,"lab":"*"}]},"mark":{"type":"text","fontSize":16,"fontWeight":"bold","baseline":"alphabetic","dy":9,"clip":false},"encoding":{"x":{"field":"i","type":"quantitative"},"y":{"field":"m","type":"quantitative"},"text":{"field":"lab"}}}
  ]}
 ]},
 {"title":{"text":"M"},"width":142,"height":131,"layer":[
  {"data":{"values":[{"c":"WT HFD","x":1,"v":1870,"e":2773},{"c":"WT HFLP","x":2,"v":4262,"e":5168},{"c":"KO HFD","x":3.6,"v":1328,"e":2264},{"c":"KO HFLP","x":4.6,"v":3183,"e":4249}]},"layer":[
   {"mark":{"type":"bar","size":17,"strokeWidth":2.5},"encoding":{"x":{"field":"x","type":"quantitative","scale":{"domain":[0.17,5.25],"nice":false,"zero":false},"axis":{"title":null,"values":[1,2,3.6,4.6],"labelExpr":"(datum.value == 1 || datum.value == 3.6) ? 'HFD' : 'HFLP'","ticks":false,"domainWidth":2.5,"labelFontSize":10.5,"labelPadding":3,"labelOverlap":false}},"y":{"field":"v","type":"quantitative","scale":{"domain":[0,6000],"nice":false,"zero":false},"axis":{"values":[0,2000,4000,6000],"format":"d","title":"Area Above the Curve","domainWidth":2.5,"tickWidth":2,"tickSize":4,"labelFontSize":9,"labelFontWeight":"bold","titleFontSize":12,"titlePadding":5,"labelPadding":2}},"fill":{"field":"c","type":"nominal","scale":{"domain":["WT HFD","WT HFLP","KO HFD","KO HFLP"],"range":["white","black","white","#ff0000"]},"legend":null},"stroke":{"field":"c","type":"nominal","scale":{"domain":["WT HFD","WT HFLP","KO HFD","KO HFLP"],"range":["black","black","#ff0000","#ff0000"]},"legend":null}}},
   {"mark":{"type":"rule","strokeWidth":2},"encoding":{"x":{"field":"x","type":"quantitative"},"y":{"field":"v","type":"quantitative"},"y2":{"field":"e"},"color":{"field":"c","type":"nominal","scale":{"domain":["WT HFD","WT HFLP","KO HFD","KO HFLP"],"range":["black","black","#ff0000","#ff0000"]},"legend":null}}},
   {"mark":{"type":"tick","orient":"horizontal","size":10,"thickness":2,"opacity":1},"encoding":{"x":{"field":"x","type":"quantitative"},"y":{"field":"e","type":"quantitative"},"color":{"field":"c","type":"nominal"}}}
  ]},
  {"data":{"values":[{"b":1,"o":1,"x":0.39,"y":-906},{"b":1,"o":2,"x":0.39,"y":-1082},{"b":1,"o":3,"x":2.32,"y":-1082},{"b":1,"o":4,"x":2.32,"y":-906},{"b":2,"o":1,"x":3.04,"y":-906},{"b":2,"o":2,"x":3.04,"y":-1082},{"b":2,"o":3,"x":5.04,"y":-1082},{"b":2,"o":4,"x":5.04,"y":-906}]},"mark":{"type":"line","color":"black","strokeWidth":1.2,"clip":false},"encoding":{"x":{"field":"x","type":"quantitative"},"y":{"field":"y","type":"quantitative"},"detail":{"field":"b","type":"nominal"},"order":{"field":"o","type":"quantitative"}}},
  {"data":{"values":[{"x":1.35,"y":-1270,"t":"WT"},{"x":4.04,"y":-1270,"t":"KLB Vglut2-KO"}]},"mark":{"type":"text","fontSize":12,"baseline":"top","clip":false},"encoding":{"x":{"field":"x","type":"quantitative"},"y":{"field":"y","type":"quantitative"},"text":{"field":"t"}}}
 ]}
],"spacing":26}
]
}
